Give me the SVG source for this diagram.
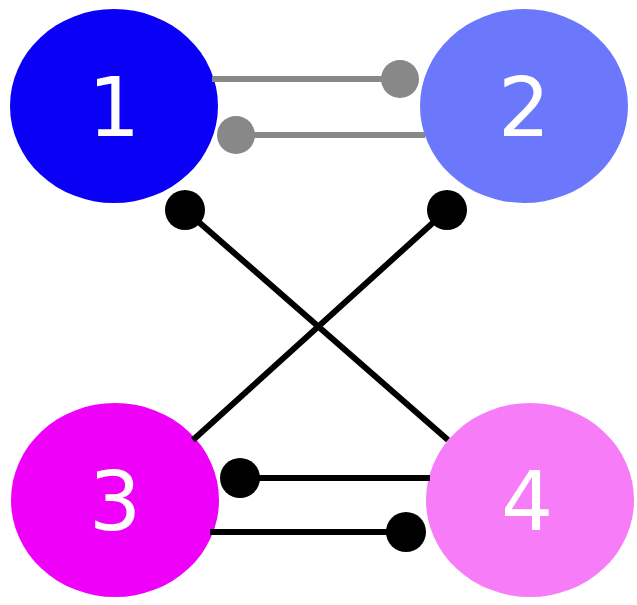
<svg xmlns="http://www.w3.org/2000/svg" width="637" height="605" viewBox="0 0 637 605">
<style>
.n text{font-family:"DejaVu Sans",sans-serif;font-size:82px;fill:#fff;text-anchor:middle}
.g line{stroke:#888;stroke-width:6}
.g circle{fill:#888}
.b line{stroke:#000;stroke-width:6}
.b circle{fill:#000}
</style>
<rect width="637" height="605" fill="#fff"/>
<g id="node1" class="n"><ellipse cx="114" cy="106" rx="104" ry="97" fill="#0a00f5"/><text x="114" y="136">1</text></g>
<g id="node2" class="n"><ellipse cx="524" cy="106" rx="104" ry="97" fill="#6b78fb"/><text x="524" y="136">2</text></g>
<g id="node3" class="n"><ellipse cx="115" cy="500" rx="104" ry="97" fill="#ef00f8"/><text x="115" y="530">3</text></g>
<g id="node4" class="n"><ellipse cx="530" cy="500" rx="104" ry="97" fill="#f77cf8"/><text x="527" y="530">4</text></g>
<g id="connectors">
<g class="g">
<line x1="212" y1="79" x2="400" y2="79"/><circle cx="400" cy="79" r="19"/>
<line x1="236" y1="135" x2="425" y2="135"/><circle cx="236" cy="135" r="19"/>
</g>
<g class="b">
<line x1="185" y1="210" x2="448" y2="440"/><circle cx="185" cy="210" r="20"/>
<line x1="447" y1="210" x2="193" y2="440"/><circle cx="447" cy="210" r="20"/>
<line x1="240" y1="478" x2="430" y2="478"/><circle cx="240" cy="478" r="20"/>
<line x1="210" y1="532" x2="406" y2="532"/><circle cx="406" cy="532" r="20"/>
</g>
</g>
</svg>
